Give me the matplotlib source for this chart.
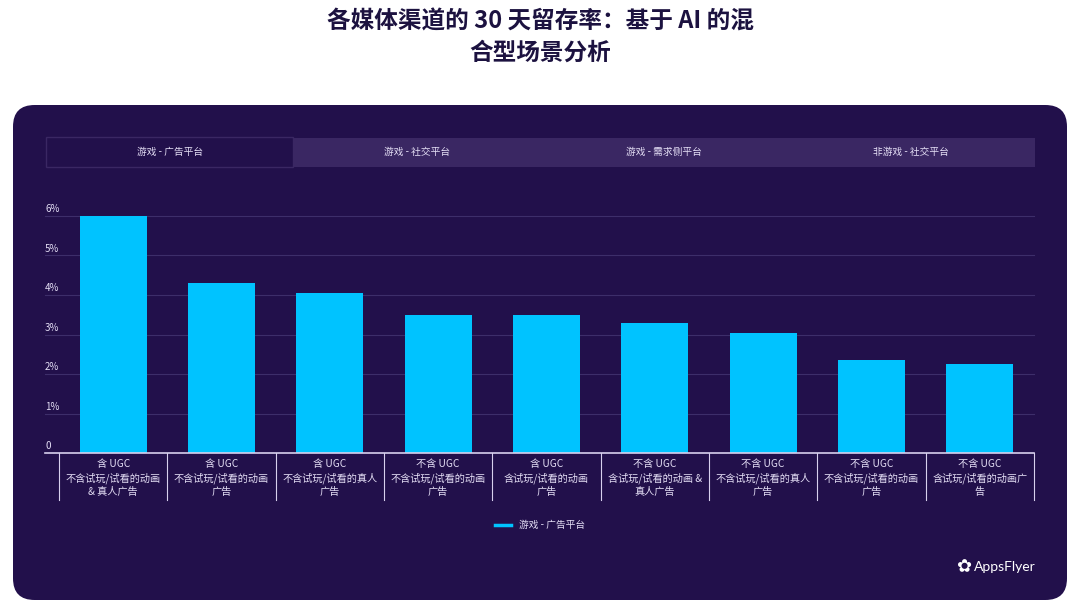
import matplotlib
matplotlib.use("Agg")
import matplotlib.pyplot as plt
from matplotlib.patches import FancyBboxPatch, Rectangle
from matplotlib.lines import Line2D

plt.rcParams['font.family'] = ['Noto Sans CJK SC', 'DejaVu Sans']

# data
categories = [
    "含 UGC\n不含试玩/试看的动画\n& 真人广告",
    "含 UGC\n不含试玩/试看的动画\n广告",
    "含 UGC\n不含试玩/试看的真人\n广告",
    "不含 UGC\n不含试玩/试看的动画\n广告",
    "含 UGC\n含试玩/试看的动画\n广告",
    "不含 UGC\n含试玩/试看的动画 &\n真人广告",
    "不含 UGC\n不含试玩/试看的真人\n广告",
    "不含 UGC\n不含试玩/试看的动画\n广告",
    "不含 UGC\n含试玩/试看的动画广\n告",
]
retention = [6.0, 4.3, 4.05, 3.5, 3.5, 3.3, 3.05, 2.35, 2.25]
y_ticks = [0, 1, 2, 3, 4, 5, 6]
y_ticklabels = ["0", "1%", "2%", "3%", "4%", "5%", "6%"]
tabs = ["游戏 - 广告平台", "游戏 - 社交平台", "游戏 - 需求侧平台", "非游戏 - 社交平台"]
series_name = "游戏 - 广告平台"
title = "各媒体渠道的 30 天留存率：基于 AI 的混\n合型场景分析"

W, H = 1080, 609
panel_c = "#22104b"
tab_c = "#3a2763"
bar_c = "#00c3ff"
txt_c = "#e4def5"

fig = plt.figure(figsize=(W / 100, H / 100), dpi=100, facecolor="white")

def fx(px):
    return px / W

def fy(py):
    return 1 - py / H

# title
fig.text(0.5, fy(37), title, ha="center", va="center", fontsize=17,
         fontweight="bold", color="#1c1240", linespacing=1.4)

# dark panel
panel = FancyBboxPatch((fx(13), fy(600)), fx(1067 - 13), (600 - 105) / H,
                       boxstyle="round,pad=0,rounding_size=0.02",
                       transform=fig.transFigure, facecolor=panel_c,
                       edgecolor="none", mutation_aspect=W / H, zorder=-2)
fig.patches.append(panel)

# tabs
tab_w = (1035 - 46) / 4
for i, t in enumerate(tabs):
    x0 = 46 + i * tab_w
    if i == 0:
        fig.patches.append(Rectangle((fx(x0), fy(167)), fx(tab_w), 30 / H,
                                     transform=fig.transFigure, facecolor=panel_c,
                                     edgecolor=tab_c, linewidth=1.0, zorder=-1))
    else:
        fig.patches.append(Rectangle((fx(x0), fy(167)), fx(tab_w), 29 / H,
                                     transform=fig.transFigure, facecolor=tab_c,
                                     edgecolor="none", zorder=-1))
    fig.text(fx(x0 + tab_w / 2), fy(152), t, ha="center", va="center",
             fontsize=7, color=txt_c)

# axes
px_per_pct = 39.5
ymax = 6.2
ax_left, ax_right = 59, 1034
ax = fig.add_axes([fx(ax_left), fy(453), fx(ax_right - ax_left), ymax * px_per_pct / H])
ax.set_zorder(1)
ax.set_facecolor("none")
x = list(range(len(categories)))
ax.bar(x, retention, width=0.62, color=bar_c, zorder=3)
ax.set_xlim(-0.5, len(categories) - 0.5)
ax.set_ylim(0, ymax)
for s in ax.spines.values():
    s.set_visible(False)

# axes-fraction offset for the y labels / grid start (about 14 px left of the axes)
lx = -14 / (ax_right - ax_left)
ax.set_yticks(y_ticks)
ax.set_yticklabels([])
ax.tick_params(axis="y", length=0)
for v, lab in zip(y_ticks, y_ticklabels):
    ax.text(lx, v + 0.05, lab, transform=ax.get_yaxis_transform(),
            ha="left", va="bottom", fontsize=7, color=txt_c)
    if v > 0:
        ax.plot([lx, 1], [v, v], transform=ax.get_yaxis_transform(),
                color="#3d2e6a", linewidth=0.8, zorder=1, clip_on=False)

# baseline
ax.plot([lx, 1.0], [0, 0], transform=ax.get_yaxis_transform(),
        color="#d8d0ee", linewidth=1.2, zorder=4, clip_on=False)

ax.set_xticks(x)
ax.set_xticklabels(categories, fontsize=7.3, color=txt_c, linespacing=1.4)
ax.tick_params(axis="x", length=0, pad=4)

# separators under the baseline
for b in range(len(categories) + 1):
    ax.plot([b - 0.5, b - 0.5], [0, -1.18], color="#d8d0ee", linewidth=0.8,
            clip_on=False, zorder=4)

# legend
handle = Line2D([0], [0], color=bar_c, linewidth=2.5)
fig.legend([handle], [series_name], loc="center", bbox_to_anchor=(0.5, fy(525)),
           frameon=False, fontsize=7, labelcolor=txt_c, handlelength=1.6,
           handletextpad=0.8)

# brand mark
fig.text(fx(1036), fy(567), "AppsFlyer", ha="right", va="center",
         fontsize=10, color="white", family=["Lato", "DejaVu Sans"])
fig.text(fx(964), fy(567), "✿", ha="center", va="center", fontsize=13,
         color="white", family=["DejaVu Sans"])

fig.savefig("out.png", dpi=100, facecolor="white")
